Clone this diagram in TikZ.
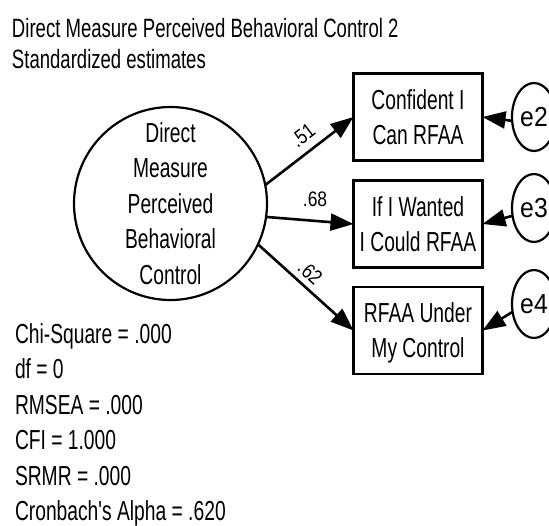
\documentclass[tikz,border=0pt]{standalone}
\usepackage{fontspec}
\setmainfont{Liberation Sans}
\newfontfamily\narrowfont[FakeStretch=0.7]{Liberation Sans}
\newfontfamily\coeffont[FakeStretch=0.83]{Liberation Sans}
\newfontfamily\errfont[FakeStretch=0.9]{Liberation Sans}
\usetikzlibrary{arrows.meta,shapes.geometric}

\begin{document}
\begin{tikzpicture}[x=1pt,y=-1pt,
  every node/.style={inner sep=0pt, outer sep=0pt},
  latent/.style={draw, circle, line width=2.2pt, minimum size=193pt, align=center,
    font=\fontsize{27.5}{35.5}\narrowfont},
  observed/.style={draw, rectangle, line width=2.8pt, minimum width=129pt,
    minimum height=87pt, align=center, text depth=0pt,
    font=\fontsize{27.5}{35}\narrowfont},
  errvar/.style={draw, ellipse, line width=2.2pt, minimum width=44pt,
    minimum height=68pt, font=\fontsize{27.5}{30}\errfont},
  regpath/.style={line width=2.6pt, -{Triangle[length=23pt,width=17pt]}},
  coef/.style={font=\fontsize{21}{21}\coeffont},
  plaintext/.style={align=left, anchor=north west}
]
\useasboundingbox (0,0) rectangle (549,525);

% title
\node[plaintext, font=\fontsize{26.5}{31}\narrowfont] (title) at (12,18)
  {Direct Measure Perceived Behavioral Control 2\\Standardized estimates};

% latent factor
\node[latent] (lat) at (170.5,203.5)
  {Direct\\Measure\\Perceived\\Behavioral\\Control};

% indicators
\node[observed] (c1) at (418,117)   {Confident I\\Can RFAA};
\node[observed] (c2) at (418,224)   {If I Wanted\\I Could RFAA};
\node[observed] (c3) at (418,330.5) {RFAA Under\\My Control};

% error terms
\node[errvar] (e2) at (534,117) {e2};
\node[errvar] (e3) at (534,208) {e3};
\node[errvar] (e4) at (534,304) {e4};

% loadings
\draw[regpath] (lat.11) -- node[coef, sloped, above=9pt, pos=0.54] {.51} (c1.west);
\draw[regpath] (lat.-8) -- node[coef, above=14pt, pos=0.56] {.68} (c2.west);
\draw[regpath] (lat.-25) -- node[coef, sloped, above=6.5pt, pos=0.45] {.62} (c3.west);

% residual paths
\draw[regpath] (e2.190) -- (c1.east);
\draw[regpath] (e3.200) -- (c2.east);
\draw[regpath] (e4.200) -- (c3.east);

% fit statistics
\node[plaintext, font=\fontsize{27.5}{35.4}\narrowfont] (fit) at (15,323.5)
  {Chi-Square = .000\\df = 0\\RMSEA = .000\\CFI = 1.000\\SRMR = .000\\Cronbach's Alpha = .620};
\end{tikzpicture}
\end{document}
